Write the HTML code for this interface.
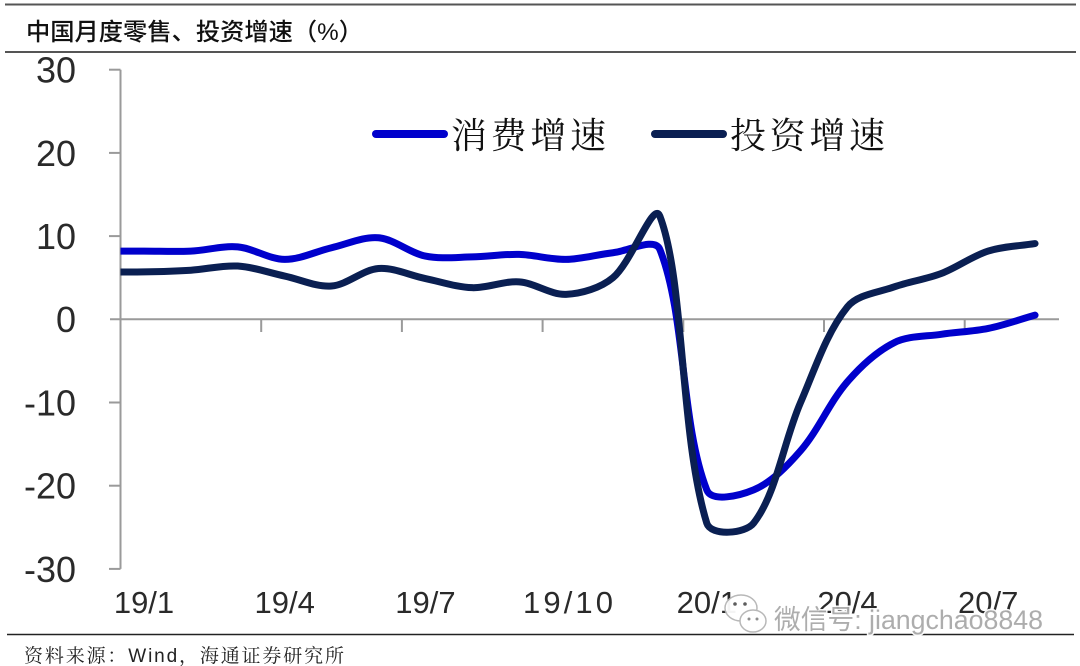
<!DOCTYPE html>
<html>
<head>
<meta charset="utf-8">
<style>
  html, body { margin: 0; padding: 0; background: #ffffff; }
  body { width: 1080px; height: 666px; overflow: hidden; }
  svg { display: block; }
</style>
</head>
<body>
<svg id="chart" width="1080" height="666" viewBox="0 0 1080 666" xmlns="http://www.w3.org/2000/svg">
  <rect x="0" y="0" width="1080" height="666" fill="#ffffff"/>
  <defs>
    <clipPath id="plotclip">
      <rect x="120.5" y="0" width="960" height="666"/>
    </clipPath>
  </defs>

  <!-- header rules -->
  <line x1="5" y1="4.5" x2="1076" y2="4.5" stroke="#555" stroke-width="2"/>
  <line x1="5" y1="52" x2="1076" y2="52" stroke="#555" stroke-width="2"/>
  <text x="26" y="40" font-family="'Liberation Sans','Noto Sans CJK SC',sans-serif" font-size="24" font-weight="500" fill="#111" textLength="337" lengthAdjust="spacingAndGlyphs">中国月度零售、投资增速（%）</text>

  <!-- footer -->
  <line x1="7" y1="634.5" x2="1074" y2="634.5" stroke="#222" stroke-width="1.6"/>
  <text x="24" y="662" font-family="'Liberation Sans','Noto Serif CJK SC',serif" font-size="19" fill="#222" textLength="320" lengthAdjust="spacing">资料来源：Wind，海通证券研究所</text>

  <!-- axes -->
  <g stroke="#9a9a9a" stroke-width="2" fill="none">
    <line x1="120.5" y1="69.7" x2="120.5" y2="568.9"/>
    <line x1="109" y1="69.7" x2="120.5" y2="69.7"/>
    <line x1="109" y1="152.9" x2="120.5" y2="152.9"/>
    <line x1="109" y1="236.1" x2="120.5" y2="236.1"/>
    <line x1="109" y1="402.5" x2="120.5" y2="402.5"/>
    <line x1="109" y1="485.7" x2="120.5" y2="485.7"/>
    <line x1="109" y1="568.9" x2="120.5" y2="568.9"/>
    <line x1="110" y1="319.3" x2="1059" y2="319.3"/>
    <line x1="261.2" y1="319.3" x2="261.2" y2="332"/>
    <line x1="401.9" y1="319.3" x2="401.9" y2="332"/>
    <line x1="542.6" y1="319.3" x2="542.6" y2="332"/>
    <line x1="683.3" y1="319.3" x2="683.3" y2="332"/>
    <line x1="824" y1="319.3" x2="824" y2="332"/>
    <line x1="964.7" y1="319.3" x2="964.7" y2="332"/>
  </g>

  <!-- y labels -->
  <g font-family="'Liberation Sans',sans-serif" font-size="36" fill="#2a2a2a" text-anchor="end">
    <text x="76" y="82.6">30</text>
    <text x="76" y="165.8">20</text>
    <text x="76" y="249">10</text>
    <text x="76" y="332.2">0</text>
    <text x="76" y="415.4">-10</text>
    <text x="76" y="498.6">-20</text>
    <text x="76" y="581.8">-30</text>
  </g>

  <!-- x labels -->
  <g font-family="'Liberation Sans',sans-serif" font-size="31" fill="#2a2a2a" text-anchor="middle">
    <text x="144" y="613">19/1</text>
    <text x="284.7" y="613">19/4</text>
    <text x="425.4" y="613">19/7</text>
    <text x="568" y="613" textLength="90" lengthAdjust="spacing">19/10</text>
    <text x="706.8" y="613">20/1</text>
    <text x="847.5" y="613">20/4</text>
    <text x="988.2" y="613">20/7</text>
  </g>

  <!-- series -->
  <g clip-path="url(#plotclip)" fill="none" stroke-linecap="round" stroke-linejoin="round">
    <path id="s1" stroke="#0000cc" stroke-width="7" d=""/>
    <path id="s2" stroke="#0a1f52" stroke-width="7" d=""/>
  </g>

  <!-- legend -->
  <line x1="376" y1="134" x2="444" y2="134" stroke="#0000cc" stroke-width="8" stroke-linecap="round"/>
  <text x="451" y="148" font-family="'Noto Serif CJK SC','Noto Sans CJK SC',serif" font-size="36" fill="#111" textLength="155" lengthAdjust="spacing">消费增速</text>
  <line x1="655" y1="134" x2="723" y2="134" stroke="#0a1f52" stroke-width="8" stroke-linecap="round"/>
  <text x="730" y="148" font-family="'Noto Serif CJK SC','Noto Sans CJK SC',serif" font-size="36" fill="#111" textLength="155" lengthAdjust="spacing">投资增速</text>

  <!-- watermark -->
  <g opacity="0.95">
    <ellipse cx="741" cy="608" rx="16" ry="13" fill="#ffffff" stroke="#b5b5b5" stroke-width="1.5"/>
    <ellipse cx="753" cy="621" rx="13" ry="11" fill="#ffffff" stroke="#b5b5b5" stroke-width="1.5"/>
    <circle cx="735" cy="604" r="1.8" fill="#555"/>
    <circle cx="745" cy="604" r="1.8" fill="#555"/>
    <circle cx="749" cy="619" r="1.5" fill="#888"/>
    <circle cx="757" cy="619" r="1.5" fill="#888"/>
    <text x="774" y="629" font-family="'Liberation Sans','Noto Sans CJK SC',sans-serif" font-size="27" fill="#a9a9a9" stroke="#ffffff" stroke-width="3" paint-order="stroke" textLength="269" lengthAdjust="spacingAndGlyphs">微信号: jiangchao8848</text>
  </g>
</svg>

<script>
(function(){
  var cw = 46.9;
  function X(i){ return 120.5 + cw*(i+0.5); }
  function Y(v){ return 319.3 - 8.32*v; }
  var retail = [8.2, 8.2, 8.7, 7.2, 8.6, 9.8, 7.6, 7.5, 7.8, 7.2, 8.0, 8.4, -20.5, -20.5, -15.8, -7.5, -2.8, -1.8, -1.1, 0.5];
  var fai    = [5.7, 5.9, 6.4, 5.2, 4.0, 6.1, 4.9, 3.8, 4.5, 3.0, 5.0, 12.4, -24.5, -24.5, -10.0, 1.5, 3.9, 5.5, 8.2, 9.1];
  function build(vals){
    var pts = [[X(-1), Y(vals[0])]];
    for (var i=0;i<vals.length;i++) pts.push([X(i), Y(vals[i])]);
    function d(a,b){ return Math.sqrt((a[0]-b[0])*(a[0]-b[0])+(a[1]-b[1])*(a[1]-b[1])); }
    var s = "M" + pts[0][0].toFixed(2) + "," + pts[0][1].toFixed(2);
    for (var k=0;k<pts.length-1;k++){
      var p0 = pts[k-1] || pts[k], p1 = pts[k], p2 = pts[k+1], p3 = pts[k+2] || pts[k+1];
      var d1 = d(p0,p1), d2 = d(p1,p2), d3 = d(p2,p3);
      var f1 = (d1+d2) > 0 ? d2/(d1+d2)/3 : 1/6;
      var f2 = (d2+d3) > 0 ? d2/(d2+d3)/3 : 1/6;
      var c1 = [p1[0] + (p2[0]-p0[0])*f1, p1[1] + (p2[1]-p0[1])*f1];
      var c2 = [p2[0] - (p3[0]-p1[0])*f2, p2[1] - (p3[1]-p1[1])*f2];
      s += " C" + c1[0].toFixed(2) + "," + c1[1].toFixed(2) + " " + c2[0].toFixed(2) + "," + c2[1].toFixed(2) + " " + p2[0].toFixed(2) + "," + p2[1].toFixed(2);
    }
    return s;
  }
  document.getElementById("s1").setAttribute("d", build(retail));
  document.getElementById("s2").setAttribute("d", build(fai));
})();
</script>
</body>
</html>
